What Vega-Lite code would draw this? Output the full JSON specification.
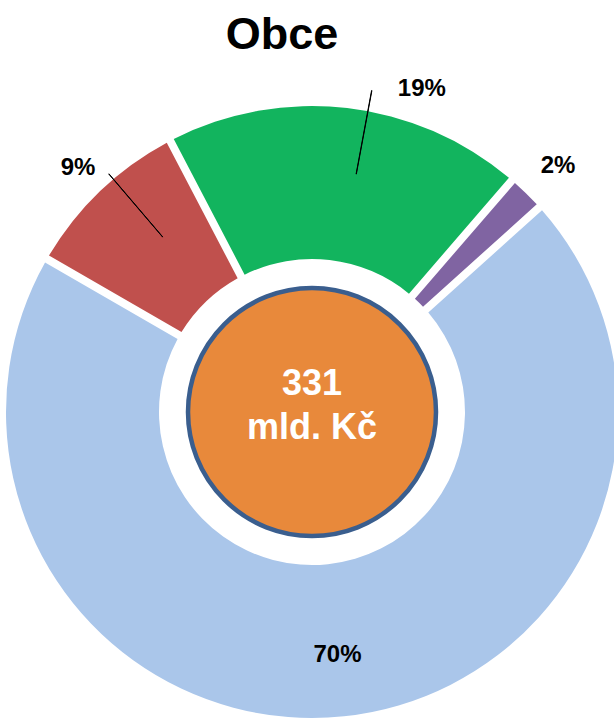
{
  "$schema": "https://vega.github.io/schema/vega-lite/v6.json",
  "width": 624,
  "height": 712,
  "autosize": {"type": "pad"},
  "padding": {"left": 0, "top": 12, "right": 0, "bottom": 0},
  "background": "white",
  "config": {"view": {"stroke": null}, "font": "Liberation Sans"},
  "title": {
    "text": "Obce",
    "font": "Liberation Sans",
    "fontSize": 45,
    "fontWeight": "bold",
    "color": "#000000",
    "anchor": "middle",
    "dx": -30,
    "baseline": "alphabetic",
    "offset": -39
  },
  "datasets": {
    "podily": [
      {"kategorie": "Přijaté transfery", "podil": 19, "popisek": "19%", "o": 1},
      {"kategorie": "Kapitálové příjmy", "podil": 2, "popisek": "2%", "o": 2},
      {"kategorie": "Daňové příjmy", "podil": 70, "popisek": "70%", "o": 3},
      {"kategorie": "Nedaňové příjmy", "podil": 9, "popisek": "9%", "o": 4}
    ]
  },
  "layer": [
    {
      "data": {"name": "podily"},
      "encoding": {
        "theta": {
          "field": "podil",
          "type": "quantitative",
          "stack": true,
          "scale": {"domain": [0, 100], "range": [-0.48171, 5.80148]}
        },
        "order": {"field": "o", "type": "quantitative"}
      },
      "layer": [
        {
          "mark": {"type": "arc", "innerRadius": 153, "outerRadius": 306, "padAngle": 0.023},
          "encoding": {
            "color": {
              "field": "kategorie",
              "type": "nominal",
              "scale": {
                "domain": ["Přijaté transfery", "Kapitálové příjmy", "Daňové příjmy", "Nedaňové příjmy"],
                "range": ["#12B45E", "#8064A2", "#AAC6EA", "#C0504D"]
              },
              "legend": null
            }
          }
        },
        {
          "mark": {"type": "text", "radius": 338, "fontSize": 24, "fontWeight": "bold", "color": "#000000", "align": "center", "baseline": "middle"},
          "encoding": {
            "text": {"condition": {"test": "datum.o == 4", "field": "popisek"}, "value": ""}
          }
        },
        {
          "mark": {"type": "text", "radius": 348, "thetaOffset": 0.0105, "fontSize": 24, "fontWeight": "bold", "color": "#000000", "align": "center", "baseline": "middle"},
          "encoding": {
            "text": {"condition": {"test": "datum.o == 2", "field": "popisek"}, "value": ""}
          }
        },
        {
          "mark": {"type": "text", "radius": 341, "thetaOffset": 0.2129, "fontSize": 24, "fontWeight": "bold", "color": "#000000", "align": "center", "baseline": "middle"},
          "encoding": {
            "text": {"condition": {"test": "datum.o == 1", "field": "popisek"}, "value": ""}
          }
        },
        {
          "mark": {"type": "text", "radius": 244, "fontSize": 24, "fontWeight": "bold", "color": "#000000", "align": "center", "baseline": "middle"},
          "encoding": {
            "text": {"condition": {"test": "datum.o == 3", "field": "popisek"}, "value": ""}
          }
        }
      ]
    },
    {
      "data": {"name": "podily"},
      "transform": [
        {"stack": "podil", "groupby": [], "sort": [{"field": "o", "order": "ascending"}], "as": ["z0", "z1"]},
        {"filter": "datum.o == 4"}
      ],
      "mark": {"type": "arc", "innerRadius": 230, "outerRadius": 313, "thetaOffset": 0.34034, "theta2Offset": 0.34134, "fill": "#000000", "stroke": "#000000", "strokeWidth": 1},
      "encoding": {
        "theta": {"field": "z0", "type": "quantitative", "stack": null},
        "theta2": {"field": "z0"}
      }
    },
    {
      "data": {"name": "podily"},
      "transform": [
        {"stack": "podil", "groupby": [], "sort": [{"field": "o", "order": "ascending"}], "as": ["z0", "z1"]},
        {"filter": "datum.o == 1"}
      ],
      "mark": {"type": "arc", "innerRadius": 242, "outerRadius": 327, "thetaOffset": 0.66497, "theta2Offset": 0.66597, "fill": "#000000", "stroke": "#000000", "strokeWidth": 1},
      "encoding": {
        "theta": {"field": "z0", "type": "quantitative", "stack": null},
        "theta2": {"field": "z0"}
      }
    },
    {
      "data": {"values": [{"celkem": 331}]},
      "mark": {"type": "arc", "innerRadius": 0, "outerRadius": 124, "theta": 0, "theta2": 6.28319, "fill": "#E8893B", "stroke": "#3A5E8E", "strokeWidth": 4.5},
      "encoding": {}
    },
    {
      "data": {"values": [{"popisek": "331\nmld. Kč"}]},
      "mark": {"type": "text", "lineBreak": "\n", "lineHeight": 44, "fontSize": 36, "fontWeight": "bold", "color": "#FFFFFF", "align": "center", "baseline": "middle", "dy": -28},
      "encoding": {"text": {"field": "popisek", "type": "nominal"}}
    }
  ]
}
